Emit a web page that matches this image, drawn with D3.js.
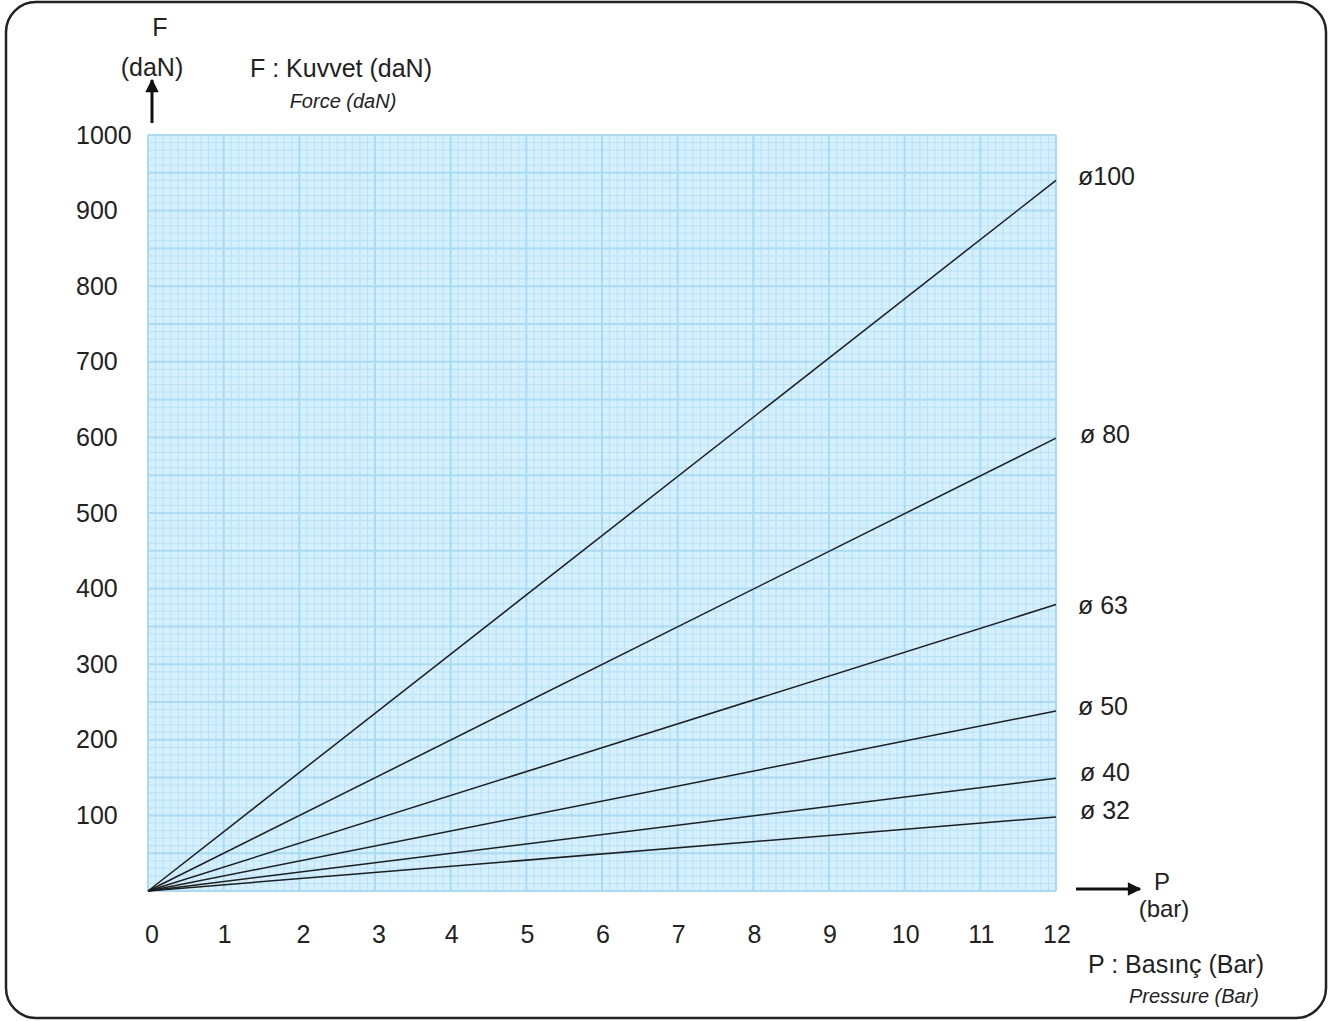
<!DOCTYPE html>
<html><head><meta charset="utf-8">
<script src="https://cdn.jsdelivr.net/npm/d3@7"></script>
<style>body{margin:0;background:#fff;} svg{display:block;font-family:"Liberation Sans",Arial,sans-serif;}</style>
</head><body>
<script>
const pressureTicks = [0,1,2,3,4,5,6,7,8,9,10,11,12];
const forceTicks = [100,200,300,400,500,600,700,800,900,1000];
const cylinders = ["ø100","ø 80","ø 63","ø 50","ø 40","ø 32"];
const forceAt12 = [940, 599, 379, 238, 149, 98];

const W = 1334, H = 1021;
const svg = d3.select("body").append("svg").attr("width", W).attr("height", H);
svg.append("rect").attr("x",6).attr("y",2).attr("width",1320).attr("height",1016)
  .attr("rx",30).attr("fill","#fff").attr("stroke","#222").attr("stroke-width",2.5);

const x = d3.scaleLinear().domain([0,12]).range([148,1056]);
const y = d3.scaleLinear().domain([0,1000]).range([891,135]);

const g = svg.append("g");
g.append("rect").attr("x",x(0)).attr("y",y(1000)).attr("width",x(12)-x(0)).attr("height",y(0)-y(1000)).attr("fill","#d5effc");
// minor grid
g.selectAll(".mx").data(d3.range(0,121).map(i=>i/10)).join("line").attr("x1",d=>x(d)).attr("x2",d=>x(d)).attr("y1",y(0)).attr("y2",y(1000))
  .attr("stroke","#b9e3f8").attr("stroke-width",1.1);
g.selectAll(".my").data(d3.range(0,101).map(i=>i*10)).join("line").attr("y1",d=>y(d)).attr("y2",d=>y(d)).attr("x1",x(0)).attr("x2",x(12))
  .attr("stroke","#b9e3f8").attr("stroke-width",1.1);
// major grid
g.selectAll(".Mx").data(pressureTicks).join("line").attr("x1",d=>x(d)).attr("x2",d=>x(d)).attr("y1",y(0)).attr("y2",y(1000))
  .attr("stroke","#a8dcf6").attr("stroke-width",2);
g.selectAll(".My").data(d3.range(0,21).map(i=>i*50)).join("line").attr("y1",d=>y(d)).attr("y2",d=>y(d)).attr("x1",x(0)).attr("x2",x(12))
  .attr("stroke","#a8dcf6").attr("stroke-width",2);

// lines
const line = d3.line().x(d=>x(d[0])).y(d=>y(d[1]));
g.selectAll(".ln").data(forceAt12).join("path").attr("d",d=>line([[0,0],[12,d]]))
  .attr("fill","none").attr("stroke","#1e1e1e").attr("stroke-width",1.5);

// labels for cylinders
const labelDy = [-2,-2,3,-3,-4,-5];
svg.selectAll(".cl").data(cylinders).join("text").attr("x",(d,i)=> (i===1||i>=4)?1080:1078)
  .attr("y",(d,i)=>y(forceAt12[i])+labelDy[i])
  .attr("font-size",25).attr("fill","#222").attr("dominant-baseline","middle").text(d=>d);

// axis tick labels
svg.selectAll(".yt").data(forceTicks).join("text").attr("x",76).attr("y",d=>y(d)+2)
  .attr("text-anchor","start").attr("dominant-baseline","middle").attr("font-size",25).attr("fill","#222").text(d=>d);
svg.selectAll(".xt").data(pressureTicks).join("text").attr("x",d=>d===0?152:x(d)+(d>=2&&d<=3?4:1)).attr("y",936)
  .attr("text-anchor","middle").attr("dominant-baseline","middle").attr("font-size",25).attr("fill","#222").text(d=>d);

// arrows
svg.append("defs").append("marker").attr("id","ah").attr("viewBox","0 0 10 10").attr("refX",9).attr("refY",5)
  .attr("markerWidth",5).attr("markerHeight",4.5).attr("orient","auto").attr("markerUnits","strokeWidth")
  .append("path").attr("d","M0,0L10,5L0,10z").attr("fill","#111");
svg.append("line").attr("x1",152).attr("y1",123).attr("x2",152).attr("y2",80).attr("stroke","#111").attr("stroke-width",3).attr("marker-end","url(#ah)");
svg.append("line").attr("x1",1076).attr("y1",889).attr("x2",1140).attr("y2",889).attr("stroke","#111").attr("stroke-width",3).attr("marker-end","url(#ah)");

const t = (txt,xx,yy,opt={}) => svg.append("text").attr("x",xx).attr("y",yy).attr("dominant-baseline","middle")
  .attr("text-anchor",opt.anchor||"start").attr("font-size",opt.size||25).attr("font-style",opt.italic?"italic":"normal")
  .attr("fill","#222").text(txt);
t("F",160,29,{anchor:"middle"});
t("(daN)",152,69,{anchor:"middle"});
t("F : Kuvvet (daN)",250,70);
t("Force (daN)",343,103,{anchor:"middle",size:20,italic:true});
t("P",1162,884,{anchor:"middle",size:24});
t("(bar)",1164,911,{anchor:"middle",size:24});
t("P : Basınç (Bar)",1088,966);
t("Pressure (Bar)",1194,998,{anchor:"middle",size:20,italic:true});
</script>
</body></html>
